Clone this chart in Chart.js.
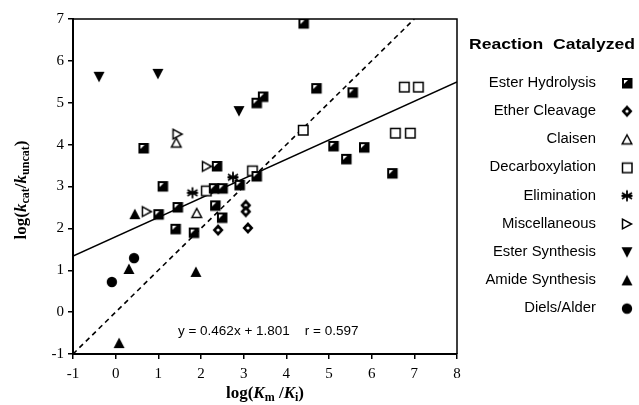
<!DOCTYPE html>
<html>
<head>
<meta charset="utf-8">
<script src="https://cdn.jsdelivr.net/npm/chart.js@4.4.1/dist/chart.umd.min.js"></script>
<style>
  html, body { margin: 0; padding: 0; background: #fff; }
  #wrap { width: 639px; height: 405px; }
</style>
</head>
<body>
<div id="wrap"><canvas id="chart" width="639" height="405"></canvas></div>
<script>
// [log(Km/Ki), log(kcat/kuncat)] per reaction class
const esterHydrolysis = [[4.4, 6.9], [4.7, 5.35], [5.55, 5.25], [3.45, 5.15], [3.3, 5.0],
  [0.65, 3.92], [1.1, 3.01], [2.37, 3.49], [3.3, 3.25], [2.9, 3.04], [2.3, 2.96], [2.5, 2.96],
  [1.0, 2.34], [1.45, 2.51], [1.4, 1.99], [1.83, 1.9], [2.33, 2.55], [2.49, 2.26],
  [5.1, 3.97], [5.82, 3.94], [5.4, 3.66], [6.48, 3.32]];
const etherCleavage = [[2.4, 1.96], [3.1, 2.01], [3.05, 2.55], [3.05, 2.4]];
const claisen = [[1.42, 4.05], [1.9, 2.37]];
const decarboxylation = [[2.12, 2.9], [3.2, 3.38], [4.39, 4.35], [6.76, 5.38], [7.09, 5.38],
  [6.55, 4.28], [6.9, 4.28]];
const elimination = [[1.8, 2.85], [2.75, 3.22]];
const miscellaneous = [[1.45, 4.25], [0.73, 2.4], [2.14, 3.48]];
const esterSynthesis = [[-0.39, 5.62], [0.99, 5.69], [2.89, 4.8]];
const amideSynthesis = [[0.45, 2.34], [0.31, 1.03], [1.88, 0.96], [0.08, -0.74]];
const dielsAlder = [[0.43, 1.29], [-0.09, 0.72]];

const reactionNames = ['Ester Hydrolysis', 'Ether Cleavage', 'Claisen', 'Decarboxylation',
  'Elimination', 'Miscellaneous', 'Ester Synthesis', 'Amide Synthesis', 'Diels/Alder'];
const reactionData = [esterHydrolysis, etherCleavage, claisen, decarboxylation,
  elimination, miscellaneous, esterSynthesis, amideSynthesis, dielsAlder];
const markerKinds = ['halfSquare', 'diamond', 'openTri', 'openSquare',
  'star', 'rightTri', 'downTri', 'upTri', 'circle'];

// fitted line y = slope*x + intercept, and the y = x reference
const fitSlope = 0.462;
const fitIntercept = 1.801;
const fitR = 0.597;
const unityLine = [[-1, -1], [7, 7]];

const xTicks = [-1, 0, 1, 2, 3, 4, 5, 6, 7, 8];
const yTicks = [-1, 0, 1, 2, 3, 4, 5, 6, 7];

const serif = "'Liberation Serif', 'Times New Roman', serif";
const sans = "'Liberation Sans', Arial, sans-serif";

function makeMarker(kind) {
  const c = document.createElement('canvas');
  c.width = 14; c.height = 14;
  const g = c.getContext('2d');
  g.fillStyle = '#000';
  g.strokeStyle = '#000';
  g.lineWidth = 1.5;
  g.beginPath();
  switch (kind) {
    case 'halfSquare':
      g.fillRect(2, 2, 10.5, 10.5);
      g.fillStyle = '#fff';
      g.moveTo(4, 4); g.lineTo(8, 4); g.lineTo(4, 8); g.closePath(); g.fill();
      break;
    case 'openSquare':
      g.fillStyle = '#fff';
      g.fillRect(2.5, 2.5, 9.5, 9.5);
      g.strokeRect(2.5, 2.5, 9.5, 9.5);
      break;
    case 'diamond':
      g.moveTo(7, 1); g.lineTo(12.5, 7); g.lineTo(7, 13); g.lineTo(1.5, 7); g.closePath(); g.fill();
      g.fillStyle = '#fff';
      g.beginPath(); g.arc(7, 7, 1.6, 0, Math.PI * 2); g.fill();
      break;
    case 'openTri':
      g.moveTo(7, 2.5); g.lineTo(11.8, 11.5); g.lineTo(2.2, 11.5); g.closePath();
      g.fillStyle = '#fff'; g.fill(); g.stroke();
      break;
    case 'rightTri':
      g.moveTo(2.5, 2.2); g.lineTo(11.5, 7); g.lineTo(2.5, 11.8); g.closePath();
      g.fillStyle = '#fff'; g.fill(); g.stroke();
      break;
    case 'upTri':
      g.moveTo(7, 1.5); g.lineTo(12.5, 12); g.lineTo(1.5, 12); g.closePath(); g.fill();
      break;
    case 'downTri':
      g.moveTo(1.5, 2); g.lineTo(12.5, 2); g.lineTo(7, 12.5); g.closePath(); g.fill();
      break;
    case 'circle':
      g.arc(7, 7, 5.2, 0, Math.PI * 2); g.fill();
      break;
    case 'star':
      g.lineWidth = 1.8;
      g.moveTo(7, 1.5); g.lineTo(7, 12.5);
      g.moveTo(2, 4); g.lineTo(12, 10);
      g.moveTo(2, 10); g.lineTo(12, 4);
      g.moveTo(1.5, 7); g.lineTo(12.5, 7);
      g.stroke();
      break;
  }
  return c;
}

const markers = markerKinds.map(makeMarker);

const toPoints = arr => arr.map(p => ({ x: p[0], y: p[1] }));

const scatterSets = reactionNames.map((name, i) => ({
  label: name,
  data: toPoints(reactionData[i]),
  pointStyle: markers[i],
  pointRadius: 6,
  order: 0
}));

const xMin = xTicks[0], xMax = xTicks[xTicks.length - 1];

const lineSets = [
  {
    type: 'line',
    label: 'fit',
    data: [{ x: xMin, y: fitSlope * xMin + fitIntercept }, { x: xMax, y: fitSlope * xMax + fitIntercept }],
    borderColor: '#000', borderWidth: 1.6, pointRadius: 0, fill: false, order: 5
  },
  {
    type: 'line',
    label: 'unity',
    data: toPoints(unityLine),
    borderColor: '#000', borderWidth: 1.6, borderDash: [5, 4], pointRadius: 0, fill: false, order: 6
  }
];

// draws text made of runs with their own font and baseline shift
function richText(ctx, runs, cx, cy) {
  let total = 0;
  runs.forEach(r => { ctx.font = r.font; r.w = ctx.measureText(r.t).width; total += r.w; });
  let x = cx - total / 2;
  ctx.textAlign = 'left';
  ctx.textBaseline = 'middle';
  runs.forEach(r => { ctx.font = r.font; ctx.fillText(r.t, x, cy + (r.dy || 0)); x += r.w; });
}

// text stretched a little horizontally, anchored at its right or centre
function wideText(ctx, text, x, y, sx, align) {
  ctx.save();
  ctx.translate(x, y);
  ctx.scale(sx, 1);
  ctx.textAlign = align;
  ctx.fillText(text, 0, 0);
  ctx.restore();
}

const decorations = {
  id: 'decorations',
  afterDraw(chart) {
    const { ctx, chartArea: a, scales } = chart;
    ctx.save();
    ctx.fillStyle = '#000';
    ctx.strokeStyle = '#000';

    // top / right frame
    ctx.lineWidth = 1.5;
    ctx.beginPath();
    ctx.moveTo(a.left, a.top); ctx.lineTo(a.right, a.top); ctx.lineTo(a.right, a.bottom);
    ctx.stroke();

    // regression text
    ctx.font = '13.5px ' + sans;
    ctx.textAlign = 'left';
    ctx.textBaseline = 'middle';
    const eqText = 'y = ' + fitSlope + 'x + ' + fitIntercept + '    r = ' + fitR;
    ctx.fillText(eqText, scales.x.getPixelForValue(1.46), scales.y.getPixelForValue(-0.45));

    // axis titles
    const big = 'bold 17px ' + serif, bigIt = 'italic bold 17px ' + serif, small = 'bold 12px ' + serif;
    richText(ctx, [
      { t: 'log(', font: big }, { t: 'K', font: bigIt }, { t: 'm', font: small, dy: 4 },
      { t: ' /', font: big }, { t: 'K', font: bigIt }, { t: 'i', font: small, dy: 4 },
      { t: ')', font: big }
    ], (a.left + a.right) / 2, 394);

    ctx.save();
    ctx.translate(22, 190);
    ctx.rotate(-Math.PI / 2);
    richText(ctx, [
      { t: 'log(', font: big }, { t: 'k', font: bigIt }, { t: 'cat', font: small, dy: 4 },
      { t: '/', font: big }, { t: 'k', font: bigIt }, { t: 'uncat', font: small, dy: 4 },
      { t: ')', font: big }
    ], 0, 0);
    ctx.restore();

    // legend block
    ctx.textBaseline = 'middle';
    ctx.font = 'bold 15px ' + sans;
    wideText(ctx, 'Reaction  Catalyzed', 552, 45, 1.17, 'center');
    ctx.font = '14px ' + sans;
    reactionNames.forEach((name, i) => {
      const y = 83 + i * 28.2;
      wideText(ctx, name, 596, y, 1.06, 'right');
      ctx.drawImage(markers[i], 627 - 7, y - 7);
    });
    ctx.restore();
  }
};

const ctx = document.getElementById('chart').getContext('2d');
const chart = new Chart(ctx, {
  type: 'scatter',
  data: { datasets: scatterSets.concat(lineSets) },
  options: {
    responsive: false,
    animation: false,
    layout: { padding: { top: 19, right: 182, left: 0, bottom: 0 } },
    plugins: { legend: { display: false }, tooltip: { enabled: false } },
    scales: {
      x: {
        type: 'linear', min: xMin, max: xMax,
        afterBuildTicks: s => { s.ticks = xTicks.map(v => ({ value: v })); },
        afterFit: s => { s.height = 51; },
        border: { display: true, width: 2, color: '#000' },
        grid: { drawOnChartArea: false, drawTicks: true, tickLength: 5, color: '#000', lineWidth: 1.5 },
        ticks: { color: '#000', font: { family: serif, size: 15 }, padding: 6, maxRotation: 0 }
      },
      y: {
        type: 'linear', min: yTicks[0], max: yTicks[yTicks.length - 1],
        afterBuildTicks: s => { s.ticks = yTicks.map(v => ({ value: v })); },
        afterFit: s => { s.width = 73; },
        border: { display: true, width: 2, color: '#000' },
        grid: { drawOnChartArea: false, drawTicks: true, tickLength: 5, color: '#000', lineWidth: 1.5 },
        ticks: { color: '#000', font: { family: serif, size: 15 }, padding: 4 }
      }
    }
  },
  plugins: [decorations]
});
</script>
</body>
</html>
